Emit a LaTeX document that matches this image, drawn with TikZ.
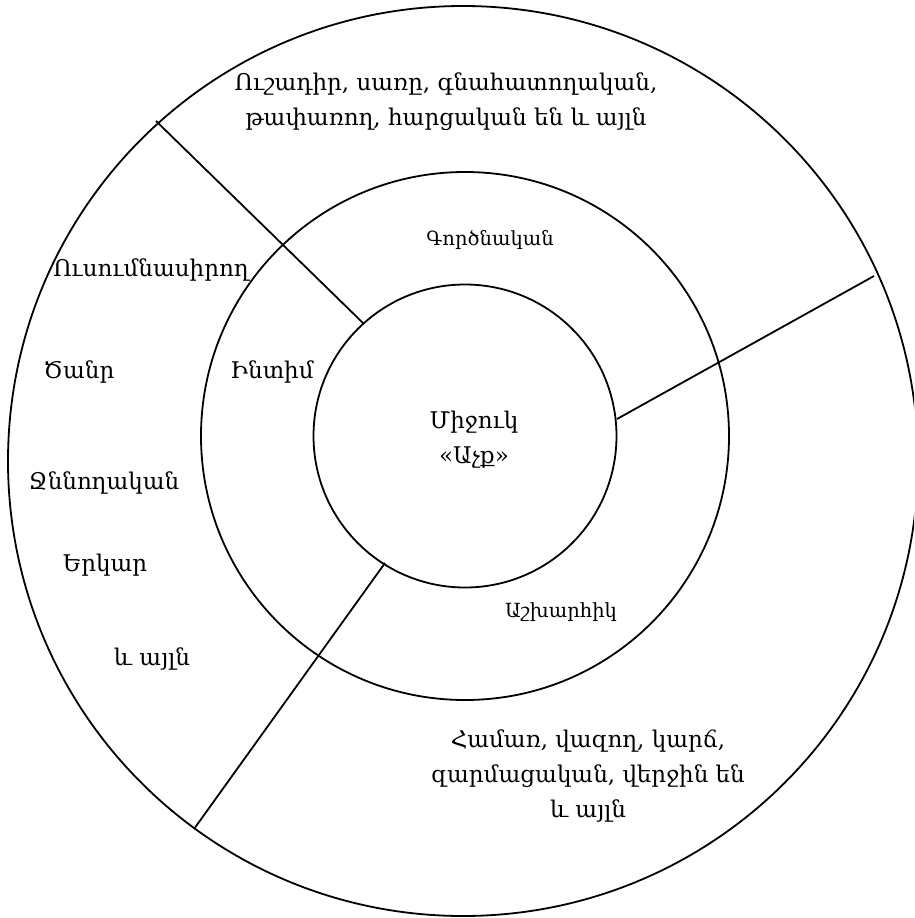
\documentclass[tikz,border=0pt]{standalone}
\usepackage{fontspec}
\setmainfont{DejaVu Serif}
\begin{document}
\begin{tikzpicture}[x=1pt,y=-1pt,
  ring/.style={circle,draw,line width=1.8pt,inner sep=0pt},
  big/.style={font=\fontsize{23}{35}\selectfont,align=center,inner sep=0pt},
  small/.style={font=\fontsize{19.5}{24}\selectfont,align=center,inner sep=0pt},
  divider/.style={line width=1.8pt}]
\useasboundingbox (0,0) rectangle (914,918);
\clip (0,0) rectangle (914,918);
\node[ring,minimum size=910pt] (outer) at (463,461) {};
\node[ring,minimum size=528pt] (middle) at (465,436) {};
\node[ring,minimum size=303pt] (inner) at (465,436) {};
% dividers
\coordinate (a1) at (363,323);
\coordinate (a2) at (156,121);
\coordinate (b1) at (617,419);
\coordinate (b2) at (874,276);
\coordinate (c1) at (385,563);
\coordinate (c2) at (194,829);
\draw[divider] (a1) -- (a2);
\draw[divider] (b1) -- (b2);
\draw[divider] (c1) -- (c2);
% texts
\node[big] (t1) at (446,102) {Ուշադիր, սառը, գնահատողական,\\թափառող, հարցական են և այլն};
\node[small] (t2) at (490,240) {Գործնական};
\node[big] (t3) at (151,270) {Ուսումնասիրող};
\node[big] (t4) at (79,372) {Ծանր};
\node[big] (t5) at (272,372) {Ինտիմ};
\node[big] (t6) at (104,483) {Ջննողական};
\node[big] (t7) at (105,565) {Երկար};
\node[big] (t8) at (152,659) {և այլն};
\node[big] (t9) at (474,440) {Միջուկ\\«Աչք»};
\node[small] (t10) at (561,612) {Աշխարհիկ};
\node[big] (t11) at (588,776) {Համառ, վազող, կարճ,\\զարմացական, վերջին են\\և այլն};
\end{tikzpicture}
\end{document}
